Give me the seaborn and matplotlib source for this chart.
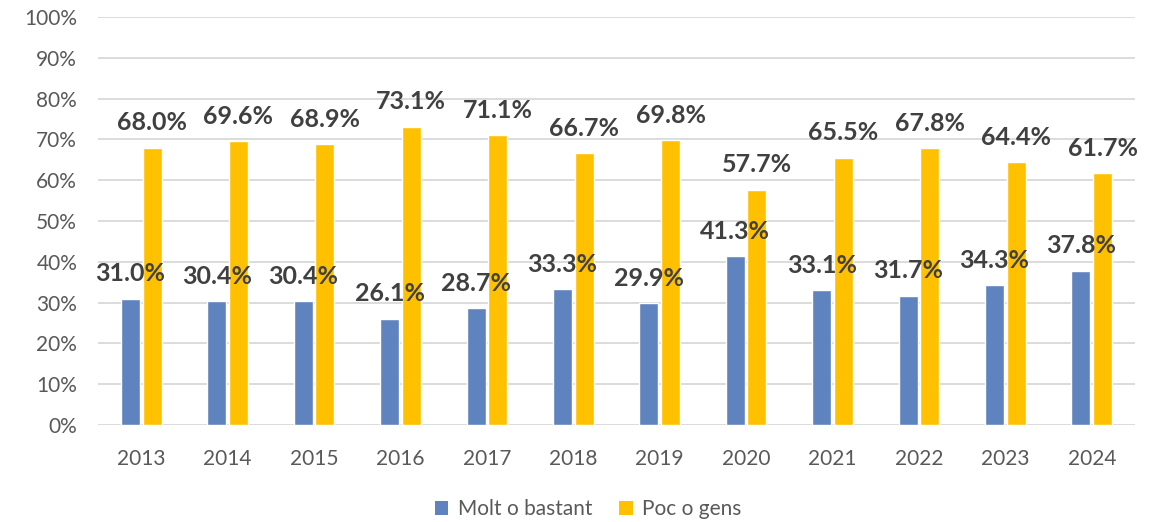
import matplotlib
matplotlib.use("Agg")
import matplotlib.pyplot as plt
import seaborn as sns
import pandas as pd
from matplotlib.patches import Patch
from matplotlib.ticker import PercentFormatter

years = ["2013", "2014", "2015", "2016", "2017", "2018", "2019", "2020", "2021", "2022", "2023", "2024"]
molt_o_bastant = [31.0, 30.4, 30.4, 26.1, 28.7, 33.3, 29.9, 41.3, 33.1, 31.7, 34.3, 37.8]
poc_o_gens = [68.0, 69.6, 68.9, 73.1, 71.1, 66.7, 69.8, 57.7, 65.5, 67.8, 64.4, 61.7]
series_names = ["Molt o bastant", "Poc o gens"]
colors = ["#5F83BF", "#FFC000"]

df = pd.DataFrame({
    "year": years * 2,
    "value": molt_o_bastant + poc_o_gens,
    "series": [series_names[0]] * len(years) + [series_names[1]] * len(years),
})

sns.set_theme(style="white")
plt.rcParams["font.family"] = ["Lato", "DejaVu Sans"]

fig = plt.figure(figsize=(11.61, 5.22), dpi=100)
ax = fig.add_axes([98 / 1161, 1 - 425 / 522, (1135 - 98) / 1161, (425 - 17) / 522])

sns.barplot(data=df, x="year", y="value", hue="series", palette=colors,
            width=0.5, gap=0.12, ax=ax, legend=False, saturation=1, errorbar=None)

ax.set_ylim(0, 100)
ax.set_xlim(-0.5, len(years) - 0.5)
ax.set_yticks(range(0, 101, 10))
ax.yaxis.set_major_formatter(PercentFormatter(decimals=0))
ax.grid(axis="y", color="#d9d9d9", linewidth=1.3)
ax.set_axisbelow(True)
for s in ax.spines.values():
    s.set_visible(False)
ax.tick_params(axis="y", length=0, pad=15, labelsize=15, labelcolor="#595959")
ax.tick_params(axis="x", length=0, pad=17.5, labelsize=15, labelcolor="#595959")
ax.set_xlabel("")
ax.set_ylabel("")

for cont in ax.containers:
    for p in cont:
        h = p.get_height()
        ax.annotate(f"{h:.1f}%", (p.get_x() + p.get_width() / 2, h),
                    xytext=(0, 12.5), textcoords="offset points",
                    ha="center", va="baseline", fontsize=18, fontweight="bold",
                    color="#404040")

handles = [Patch(facecolor=c, edgecolor="none") for c in colors]
fig.legend(handles, series_names, loc="center", bbox_to_anchor=(588 / 1161, 1 - 509 / 522),
           ncol=2, frameon=False, fontsize=15, labelcolor="#595959",
           handlelength=0.65, handleheight=0.65, handletextpad=0.45, columnspacing=1.3)

fig.savefig("out.png", dpi=100)
